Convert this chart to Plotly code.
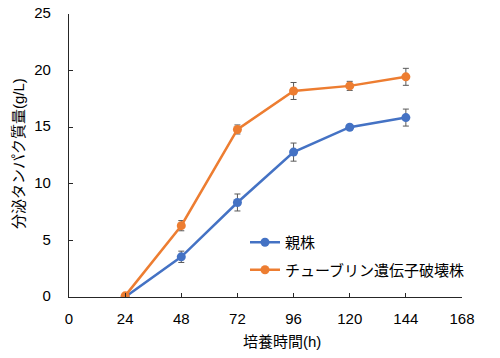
import plotly.graph_objects as go

hours = [24, 48, 72, 96, 120, 144]
parent = [0.0, 3.55, 8.35, 12.8, 15.0, 15.85]
parent_err = [0.0, 0.5, 0.75, 0.8, 0.15, 0.75]
mutant = [0.1, 6.3, 14.8, 18.2, 18.65, 19.45]
mutant_err = [0.0, 0.45, 0.4, 0.75, 0.4, 0.75]
x_ticks = [0, 24, 48, 72, 96, 120, 144, 168]
y_ticks = [0, 5, 10, 15, 20, 25]
names = ["親株", "チューブリン遺伝子破壊株"]
x_title = "培養時間(h)"
y_title = "分泌タンパク質量(g/L)"

FONT = "Liberation Sans, Noto Sans CJK JP, sans-serif"
OFF = 8  # page body margin
W, H = 500 - OFF, 358 - OFF
L, R, T, B = 69 - OFF, 38, 14 - OFF, 61
PW, PH = W - L - R, H - T - B


def px(xp):
    return (xp - OFF - L) / PW


def py(yp):
    return (H - B - (yp - OFF)) / PH


fig = go.Figure()
for name, vals, errs, color, grp in [
    (names[0], parent, parent_err, "#4472C4", "a"),
    (names[1], mutant, mutant_err, "#ED7D31", "b"),
]:
    fig.add_trace(go.Scatter(
        x=hours, y=vals, name=name, mode="lines+markers",
        legendgroup=grp,
        line=dict(color=color, width=2.5),
        marker=dict(color=color, size=9),
        error_y=dict(type="data", array=errs, color="#595959", thickness=1, width=3),
    ))

fig.update_layout(
    width=W, height=H,
    margin=dict(l=L, r=R, t=T, b=B, autoexpand=False),
    paper_bgcolor="white", plot_bgcolor="white",
    font=dict(family=FONT, size=15, color="#000000"),
    showlegend=True,
    legend=dict(x=px(245), y=py(226), xanchor="left", yanchor="top",
                bgcolor="rgba(0,0,0,0)", font=dict(size=15, family=FONT),
                traceorder="grouped", tracegroupgap=5),
    annotations=[
        dict(text=x_title, xref="paper", yref="paper",
             x=px(282), y=py(341),
             xanchor="center", yanchor="middle", showarrow=False,
             font=dict(size=15, family=FONT)),
        dict(text=y_title, xref="paper", yref="paper",
             x=px(18), y=py(154), textangle=-90,
             xanchor="center", yanchor="middle", showarrow=False,
             font=dict(size=15, family=FONT)),
    ],
)
fig.update_xaxes(
    range=[0, 168], tickvals=x_ticks, ticktext=[str(v) for v in x_ticks],
    showline=True, linecolor="#262626", linewidth=1.3,
    ticks="inside", ticklen=4, tickcolor="#262626",
    showgrid=False, zeroline=False, automargin=False,
    tickfont=dict(size=15), ticklabelstandoff=8, ticklabeloverflow="allow",
)
fig.update_yaxes(
    range=[0, 25], tickvals=y_ticks,
    showline=True, linecolor="#262626", linewidth=1.3,
    ticks="inside", ticklen=4, tickcolor="#262626",
    showgrid=False, zeroline=False, automargin=False,
    tickfont=dict(size=15), ticklabelstandoff=14, ticklabeloverflow="allow",
    ticklabelshift=-1,
)

fig.write_html("out.html")
